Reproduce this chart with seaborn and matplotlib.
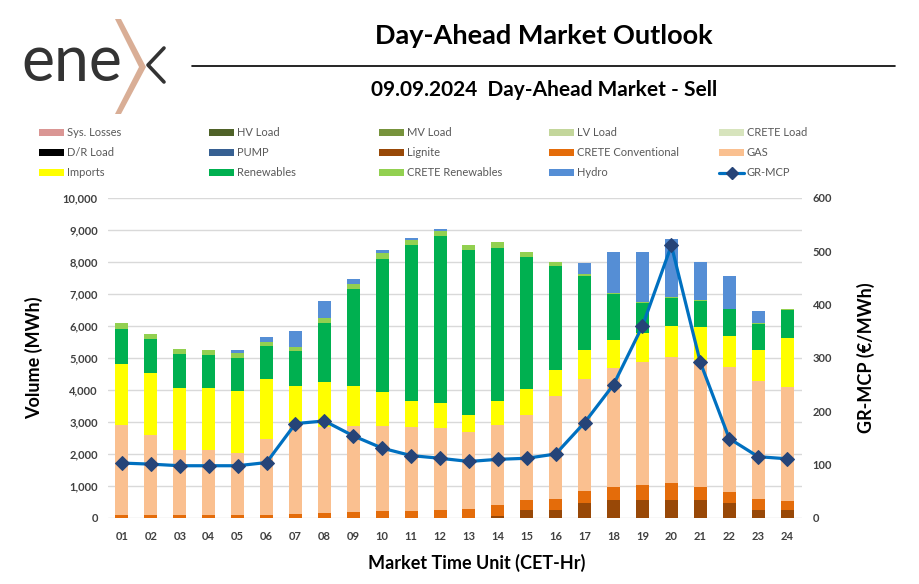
import numpy as np
import pandas as pd
import seaborn as sns
import matplotlib.pyplot as plt
from matplotlib.patches import Patch, Polygon
from matplotlib.lines import Line2D
from matplotlib.ticker import FuncFormatter

# market time units
hours = ['01', '02', '03', '04', '05', '06', '07', '08', '09', '10', '11', '12',
         '13', '14', '15', '16', '17', '18', '19', '20', '21', '22', '23', '24']

# sell volumes (MWh)
sys_losses = [0] * 24
hv_load = [0] * 24
mv_load = [0] * 24
lv_load = [0] * 24
crete_load = [0] * 24
dr_load = [0] * 24
pump = [0] * 24
lignite = [0, 0, 0, 0, 0, 0, 0, 0, 0, 0, 0, 0,
           0, 73, 261, 261, 470, 575, 575, 575, 575, 470, 261, 261]
crete_conv = [100, 100, 100, 90, 90, 100, 115, 157, 199, 230, 230, 261,
              272, 324, 314, 335, 376, 407, 470, 522, 397, 356, 324, 282]
gas = [2794, 2481, 2032, 2031, 1937, 2366, 2779, 2685, 2664, 2654, 2602, 2560,
       2424, 2497, 2633, 3208, 3490, 3710, 3835, 3940, 3960, 3897, 3710, 3543]
imports = [1923, 1944, 1933, 1944, 1944, 1881, 1223, 1421, 1254, 1055, 815, 784,
           512, 763, 815, 815, 920, 867, 888, 961, 1024, 972, 940, 1546]
renewables = [1097, 1055, 1055, 1034, 1034, 1034, 1097, 1818, 3041, 4170, 4869, 5193,
              5162, 4786, 4148, 3260, 2309, 1432, 940, 867, 836, 825, 826, 857]
crete_ren = [167, 167, 157, 157, 136, 126, 136, 157, 157, 177, 178, 157,
             167, 167, 136, 125, 53, 31, 31, 32, 21, 21, 21, 52]
hydro = [0, 0, 0, 0, 105, 157, 502, 554, 146, 84, 42, 63,
         0, 0, 0, 0, 365, 1275, 1579, 1818, 1202, 1024, 376, 0]

# GR-MCP (EUR/MWh)
gr_mcp = [103, 101, 98, 98, 98, 104, 177, 182, 154, 131, 117, 112,
          106, 110, 112, 120, 179, 250, 360, 511, 292, 149, 115, 111]

legend_names = ['Sys. Losses', 'HV Load', 'MV Load', 'LV Load', 'CRETE Load',
                'D/R Load', 'PUMP', 'Lignite', 'CRETE Conventional', 'GAS',
                'Imports', 'Renewables', 'CRETE Renewables', 'Hydro', 'GR-MCP']
colors = {'Sys. Losses': '#DA9694', 'HV Load': '#4F6228', 'MV Load': '#77933C',
          'LV Load': '#C3D69B', 'CRETE Load': '#D7E4BD', 'D/R Load': '#000000',
          'PUMP': '#376092', 'Lignite': '#984807', 'CRETE Conventional': '#E46C0A',
          'GAS': '#FAC090', 'Imports': '#FFFF00', 'Renewables': '#00B050',
          'CRETE Renewables': '#92D050', 'Hydro': '#558ED5'}

df = pd.DataFrame({'hour': hours, 'Sys. Losses': sys_losses, 'HV Load': hv_load,
                   'MV Load': mv_load, 'LV Load': lv_load, 'CRETE Load': crete_load,
                   'D/R Load': dr_load, 'PUMP': pump, 'Lignite': lignite,
                   'CRETE Conventional': crete_conv, 'GAS': gas, 'Imports': imports,
                   'Renewables': renewables, 'CRETE Renewables': crete_ren,
                   'Hydro': hydro, 'GR-MCP': gr_mcp})

# bottom -> top
stack = ['Lignite', 'CRETE Conventional', 'GAS', 'Imports', 'Renewables',
         'CRETE Renewables', 'Hydro']
cum = df[stack].cumsum(axis=1)
cum['hour'] = hours

sns.set_theme(style='white')
plt.rcParams['font.family'] = ['Lato', 'DejaVu Sans']
plt.rcParams['font.weight'] = 'bold'   # tick labels are bold in the original

W, H = 919, 584
fig = plt.figure(figsize=(W / 100, H / 100), dpi=100)
ax = fig.add_axes([107.5 / W, 1 - 518 / H, 694 / W, 320 / H])

# stacked bars: draw cumulative totals from top layer down
for name in reversed(stack):
    sns.barplot(data=cum, x='hour', y=name, color=colors[name], width=0.45,
                saturation=1, errorbar=None, ax=ax, linewidth=0)

ax.set_ylim(0, 10000)
ax.set_yticks(np.arange(0, 10001, 1000))
ax.yaxis.set_major_formatter(FuncFormatter(lambda v, p: f'{int(v):,}'))
ax.yaxis.grid(True, color='#D9D9D9', lw=1)
ax.set_axisbelow(True)
for s in ax.spines.values():
    s.set_visible(False)
ax.tick_params(axis='both', length=0, labelsize=8, labelcolor='#404040')
ax.tick_params(axis='y', pad=7)
ax.tick_params(axis='x', pad=9)

ax.set_xlabel('Market Time Unit (CET-Hr)', fontsize=13, fontweight='bold', color='black')
ax.xaxis.set_label_coords(0.532, -0.112)
ax.set_ylabel('Volume (MWh)', fontsize=13, fontweight='bold', color='black')
ax.yaxis.set_label_coords(-0.093, 0.5)

# price line on the secondary axis
ax2 = ax.twinx()
sns.lineplot(data=df, x='hour', y='GR-MCP', ax=ax2, sort=False, color='#0070C0',
             lw=2.3, marker='D', markersize=7.5, markerfacecolor='#264478',
             markeredgecolor='#264478')
ax2.set_ylim(0, 600)
ax2.set_yticks(np.arange(0, 601, 100))
ax2.grid(False)
for s in ax2.spines.values():
    s.set_visible(False)
ax2.tick_params(axis='y', length=0, labelsize=8, labelcolor='#404040', pad=8)
ax2.set_ylabel('GR-MCP (€/MWh)', fontsize=13, fontweight='bold', color='black')
ax2.yaxis.set_label_coords(1.080, 0.5)
ax.set_xlim(-0.5, 23.5)

# legend: 5 columns, 3 rows, filled row by row
handles = []
for name in legend_names:
    if name == 'GR-MCP':
        handles.append(Line2D([], [], color='#0070C0', lw=2.3, marker='D', markersize=6,
                              markerfacecolor='#264478', markeredgecolor='#264478'))
    else:
        handles.append(Patch(facecolor=colors[name], edgecolor='none'))
for c in range(5):
    idx = [r * 5 + c for r in range(3)]
    fig.legend([handles[i] for i in idx], [legend_names[i] for i in idx],
               loc='upper left', bbox_to_anchor=((39.3 + 170 * c) / W, 1 - 127.5 / H),
               frameon=False, prop={'size': 8, 'weight': 'normal'}, labelcolor='#595959',
               borderpad=0, borderaxespad=0, handlelength=2.25, handleheight=0.63,
               handletextpad=0.22, labelspacing=0.8)

# header
fig.text(544 / W, 1 - 36 / H, 'Day-Ahead Market Outlook', ha='center', va='center',
         fontsize=19.5, fontweight='bold', color='black')
fig.add_artist(Line2D([192 / W, 895 / W], [1 - 66 / H, 1 - 66 / H], color='black',
                      lw=1.2, transform=fig.transFigure))
fig.text(544 / W, 1 - 90 / H, '09.09.2024  Day-Ahead Market - Sell', ha='center',
         va='center', fontsize=15, fontweight='bold', color='black')

# logo
fig.text(21 / W, 1 - 81 / H, 'ene', fontsize=45, fontweight='normal', color='#333333',
         va='baseline', ha='left')
chev = [(115, 19), (121, 19), (146, 67), (121, 114), (115, 114), (139, 67)]
fig.add_artist(Polygon([(x / W, 1 - y / H) for x, y in chev], closed=True,
                       facecolor='#D9AE96', edgecolor='none', transform=fig.transFigure))
fig.add_artist(Line2D([164 / W, 148 / W, 164 / W], [1 - 48 / H, 1 - 65 / H, 1 - 82 / H],
                      color='#333333', lw=2.6, transform=fig.transFigure))

fig.savefig('out.png', dpi=100)
